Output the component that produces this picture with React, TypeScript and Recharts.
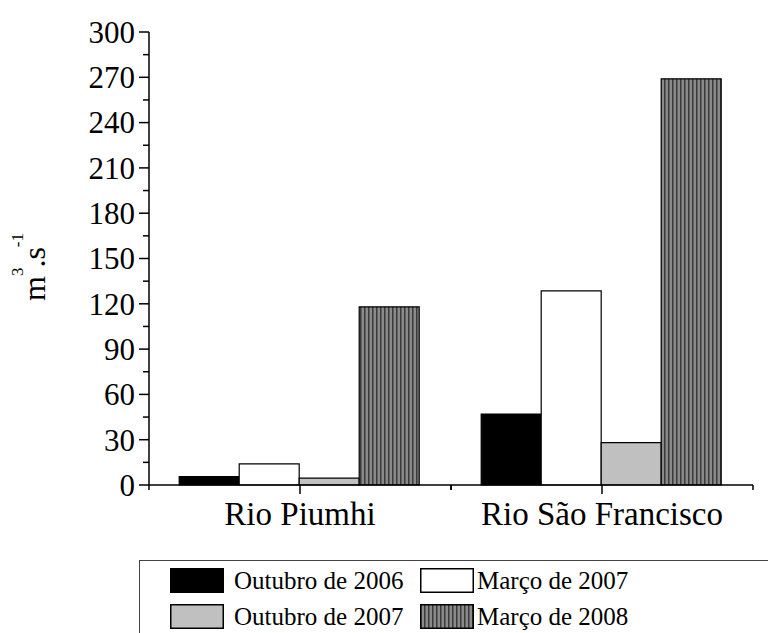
import { BarChart, Bar, XAxis, YAxis, Legend } from "recharts";

const CATEGORIES = ["Rio Piumhi", "Rio São Francisco"];
const OUTUBRO_2006 = [5.5, 47];
const MARCO_2007 = [14, 128.5];
const OUTUBRO_2007 = [4.5, 28];
const MARCO_2008 = [118, 269];
const Y_TICKS = [0, 15, 30, 45, 60, 75, 90, 105, 120, 135, 150, 165, 180, 195, 210, 225, 240, 255, 270, 285, 300];

const SERIES = [
  { key: "out2006", name: "Outubro de 2006", fill: "#000000" },
  { key: "mar2007", name: "Março de 2007", fill: "#ffffff" },
  { key: "out2007", name: "Outubro de 2007", fill: "#c0c0c0" },
  { key: "mar2008", name: "Março de 2008", fill: "url(#hatch)" },
];

const data = CATEGORIES.map((name, i) => ({
  name,
  out2006: OUTUBRO_2006[i],
  mar2007: MARCO_2007[i],
  out2007: OUTUBRO_2007[i],
  mar2008: MARCO_2008[i],
}));

const FONT = "'Liberation Serif', 'Times New Roman', serif";

const YTick = (props: any) => {
  const { x, y, payload } = props;
  const major = payload.value % 30 === 0;
  return (
    <g>
      <line x1={x - (major ? 10 : 6)} x2={x} y1={y} y2={y} stroke="#000" strokeWidth={1.5} />
      {major && (
        <text x={x - 14} y={y} dy="0.35em" textAnchor="end" fontSize={31} fontFamily={FONT} fill="#000">
          {payload.value}
        </text>
      )}
    </g>
  );
};

const XTick = (props: any) => {
  const { x, y, payload } = props;
  const half = payload.offset ?? 151;
  return (
    <g>
      <line x1={x} x2={x} y1={y} y2={y + 9} stroke="#000" strokeWidth={1.5} />
      <line x1={x - half} x2={x - half} y1={y} y2={y + 5} stroke="#000" strokeWidth={1.5} />
      <line x1={x + half} x2={x + half} y1={y} y2={y + 5} stroke="#000" strokeWidth={1.5} />
      <text x={x} y={y + 40} textAnchor="middle" fontSize={33} fontFamily={FONT} fill="#000">
        {payload.value}
      </text>
    </g>
  );
};

const YLabel = () => (
  <text
    transform="translate(45,267) rotate(-90)"
    textAnchor="middle"
    fontSize={32}
    fontFamily={FONT}
    fill="#000"
  >
    m
    <tspan fontSize={17} dy={-22}>3</tspan>
    <tspan dy={22}>.s</tspan>
    <tspan fontSize={17} dy={-22}>-1</tspan>
  </text>
);

const Swatch = ({ fill }: { fill: string }) => (
  <svg width={54} height={25} style={{ display: "block" }}>
    <defs>
      <pattern id="hatchLegend" width={4} height={4} patternUnits="userSpaceOnUse">
        <rect width={4} height={4} fill="#8a8a8a" />
        <rect width={1.5} height={4} fill="#3a3a3a" />
      </pattern>
    </defs>
    <rect
      x={0.75}
      y={0.75}
      width={52.5}
      height={23.5}
      fill={fill === "url(#hatch)" ? "url(#hatchLegend)" : fill}
      stroke="#000"
      strokeWidth={1.5}
    />
  </svg>
);

const LegendBox = () => (
  <div
    style={{
      position: "relative",
      width: 660,
      height: 100,
      borderTop: "1.5px solid #444",
      borderLeft: "1.5px solid #444",
      fontFamily: FONT,
      fontSize: 25,
      color: "#000",
      boxSizing: "border-box",
    }}
  >
    {SERIES.map((s, i) => {
      const col = i % 2;
      const row = Math.floor(i / 2);
      return (
        <div
          key={s.key}
          style={{
            position: "absolute",
            left: col === 0 ? 30 : 280,
            top: 7 + row * 36,
            display: "flex",
            alignItems: "center",
            gap: col === 0 ? 10 : 3,
            lineHeight: "25px",
            whiteSpace: "nowrap",
          }}
        >
          <Swatch fill={s.fill} />
          <span>{s.name}</span>
        </div>
      );
    })}
  </div>
);

export default function App() {
  return (
    <div style={{ position: "absolute", left: 0, top: 0, width: 768, height: 633, overflow: "hidden", background: "#fff" }}>
      <BarChart
        width={768}
        height={633}
        data={data}
        margin={{ top: 32, right: 15, bottom: 88, left: 0 }}
        barCategoryGap="10%"
        barGap={0}
      >
        <defs>
          <pattern id="hatch" width={4} height={4} patternUnits="userSpaceOnUse">
            <rect width={4} height={4} fill="#8a8a8a" />
            <rect width={1.5} height={4} fill="#3a3a3a" />
          </pattern>
        </defs>
        <XAxis
          dataKey="name"
          height={60}
          axisLine={{ stroke: "#000", strokeWidth: 1.5 }}
          tickLine={false}
          tickSize={0}
          tickMargin={0}
          tick={<XTick />}
          interval={0}
        />
        <YAxis
          width={149}
          domain={[0, 300]}
          ticks={Y_TICKS}
          interval={0}
          axisLine={{ stroke: "#000", strokeWidth: 1.5 }}
          tickLine={false}
          tickSize={0}
          tickMargin={0}
          tick={<YTick />}
          label={<YLabel />}
        />
        {SERIES.map((s) => (
          <Bar
            key={s.key}
            dataKey={s.key}
            name={s.name}
            fill={s.fill}
            stroke="#000"
            strokeWidth={1.2}
            isAnimationActive={false}
          />
        ))}
        <Legend
          layout="vertical"
          align="center"
          verticalAlign="middle"
          wrapperStyle={{ top: 560, left: 139, width: 660, height: 100 }}
          content={<LegendBox />}
        />
      </BarChart>
    </div>
  );
}
